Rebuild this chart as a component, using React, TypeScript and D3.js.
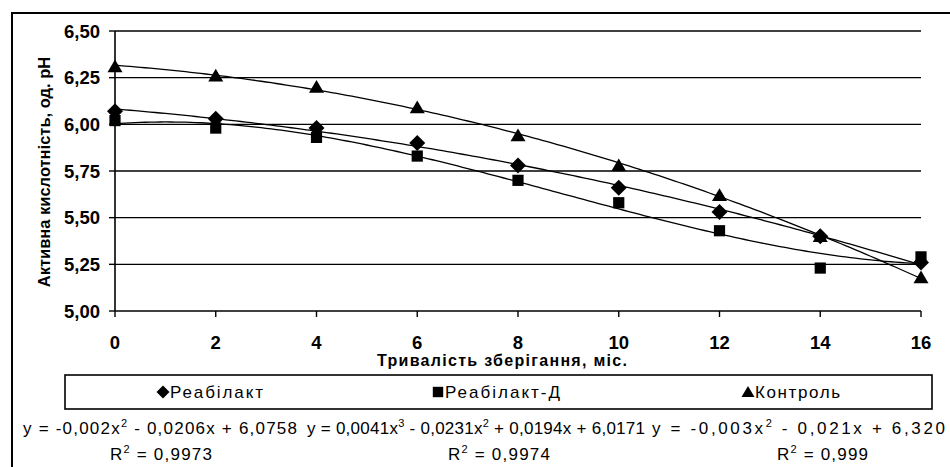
import React from "react";
import * as d3 from "d3";

const months = [0, 2, 4, 6, 8, 10, 12, 14, 16];
const reabilakt = [6.07, 6.03, 5.98, 5.9, 5.78, 5.66, 5.53, 5.4, 5.26];
const reabilaktD = [6.02, 5.98, 5.93, 5.83, 5.7, 5.58, 5.43, 5.23, 5.29];
const kontrol = [6.31, 6.26, 6.2, 6.09, 5.94, 5.78, 5.62, 5.4, 5.18];
const yTicks = [5.0, 5.25, 5.5, 5.75, 6.0, 6.25, 6.5];
const xTicks = [0, 2, 4, 6, 8, 10, 12, 14, 16];
const seriesNames = ["Реабілакт", "Реабілакт-Д", "Контроль"];
const trendDegrees = [2, 3, 2];
const equations = [
  [["y = -0,002x", ""], ["2", "sup"], [" - 0,0206x + 6,0758", ""]],
  [["y = 0,0041x", ""], ["3", "sup"], [" - 0,0231x", ""], ["2", "sup"], [" + 0,0194x + 6,0171", ""]],
  [["y = -0,003x", ""], ["2", "sup"], [" - 0,021x + 6,320", ""]],
];
const rSquared = ["0,9973", "0,9974", "0,999"];

function polyfit(xs: number[], ys: number[], deg: number): number[] {
  const n = deg + 1;
  const A: number[][] = Array.from({ length: n }, () => new Array(n + 1).fill(0));
  for (let r = 0; r < n; r++) {
    for (let c = 0; c < n; c++) {
      A[r][c] = d3.sum(xs, (x) => Math.pow(x, r + c));
    }
    A[r][n] = d3.sum(xs, (x, i) => ys[i] * Math.pow(x, r));
  }
  for (let i = 0; i < n; i++) {
    let p = i;
    for (let k = i + 1; k < n; k++) if (Math.abs(A[k][i]) > Math.abs(A[p][i])) p = k;
    [A[i], A[p]] = [A[p], A[i]];
    for (let k = i + 1; k < n; k++) {
      const f = A[k][i] / A[i][i];
      for (let j = i; j <= n; j++) A[k][j] -= f * A[i][j];
    }
  }
  const coef = new Array(n).fill(0);
  for (let i = n - 1; i >= 0; i--) {
    let s = A[i][n];
    for (let j = i + 1; j < n; j++) s -= A[i][j] * coef[j];
    coef[i] = s / A[i][i];
  }
  return coef;
}

const FONT = "'Liberation Sans', Arial, sans-serif";

export default function App() {
  const W = 950, H = 467;
  const x = d3.scaleLinear().domain([0, 16]).range([115, 921]);
  const y = d3.scaleLinear().domain([5, 6.5]).range([311, 31]);
  const data = [reabilakt, reabilaktD, kontrol];
  const line = d3.line<[number, number]>().x((d) => x(d[0])).y((d) => y(d[1]));
  const fine = d3.range(0, 16.0001, 0.1);

  const marker = (kind: number, cx: number, cy: number, s: number) => {
    if (kind === 0) {
      return <path d={d3.symbol().type(d3.symbolSquare).size(s * s * 0.5)() as string} transform={`translate(${cx},${cy}) rotate(45)`} fill="#000" />;
    }
    if (kind === 1) {
      return <rect x={cx - s * 0.4} y={cy - s * 0.4} width={s * 0.8} height={s * 0.8} fill="#000" />;
    }
    const h = s * 0.85;
    return <path d={`M${cx},${cy - h * 0.55}L${cx + s / 2},${cy + h * 0.45}L${cx - s / 2},${cy + h * 0.45}Z`} fill="#000" />;
  };

  const eqX = [23, 307, 652];
  const eqW = [274, 338, 293];
  const rX = [110, 448, 777];
  const rW = [102, 102, 91];
  const legX = [157, 432, 742];
  const legW = [93, 115, 85];

  return (
    <svg width={W} height={H} style={{ position: "absolute", left: 0, top: 0, background: "#fff" }}>
      <rect x={0} y={0} width={W} height={H} fill="#fff" />
      <path d={`M12,${H + 5}V13H${W + 5}`} fill="none" stroke="#000" strokeWidth={2} />
      {yTicks.map((t) => (
        <line key={t} x1={x(0)} x2={x(16)} y1={y(t)} y2={y(t)} stroke="#000" strokeWidth={t === 5 ? 1.6 : 1.4} />
      ))}
      <line x1={x(0)} x2={x(0)} y1={y(6.5)} y2={y(5)} stroke="#000" strokeWidth={1.6} />
      {yTicks.map((t) => (
        <g key={"yt" + t}>
          <line x1={x(0) - 6} x2={x(0)} y1={y(t)} y2={y(t)} stroke="#000" strokeWidth={1.4} />
          <text x={100} y={y(t)} dy="0.36em" textAnchor="end" fontFamily={FONT} fontWeight="bold" fontSize={18.5}>
            {d3.format(".2f")(t).replace(".", ",")}
          </text>
        </g>
      ))}
      {xTicks.map((t) => (
        <g key={"xt" + t}>
          <line x1={x(t)} x2={x(t)} y1={y(5)} y2={y(5) + 6} stroke="#000" strokeWidth={1.4} />
          <text x={x(t)} y={349} textAnchor="middle" fontFamily={FONT} fontWeight="bold" fontSize={18.5}>
            {t}
          </text>
        </g>
      ))}
      <text x={502} y={366} textAnchor="middle" fontFamily={FONT} fontWeight="bold" fontSize={16} textLength={250} lengthAdjust="spacing">
        Тривалість зберігання, міс.
      </text>
      <text transform={`translate(50,172) rotate(-90)`} textAnchor="middle" fontFamily={FONT} fontWeight="bold" fontSize={16.5}>
        Активна кислотність, од. рН
      </text>
      {data.map((vals, si) => {
        const c = polyfit(months, vals, trendDegrees[si]);
        const pts: [number, number][] = fine.map((xv) => [xv, c.reduce((s, ci, k) => s + ci * Math.pow(xv, k), 0)]);
        return <path key={"tr" + si} d={line(pts) as string} fill="none" stroke="#000" strokeWidth={1.3} />;
      })}
      {data.map((vals, si) => (
        <g key={"m" + si}>
          {vals.map((v, i) => (
            <g key={i}>{marker(si, x(months[i]), y(v), si === 0 ? 16 : si === 1 ? 14 : 15)}</g>
          ))}
        </g>
      ))}
      <rect x={65} y={375} width={867} height={34} fill="#fff" stroke="#000" strokeWidth={1.6} />
      {legX.map((lx, i) => (
        <g key={"lg" + i}>
          {marker(i, lx + 6, 392, 13)}
          <text x={lx + 13} y={398} fontFamily={FONT} fontSize={17} textLength={legW[i]} lengthAdjust="spacing">
            {seriesNames[i]}
          </text>
        </g>
      ))}
      {eqX.map((ex, i) => (
        <text key={"eq" + i} x={ex} y={434} fontFamily={FONT} fontSize={17} textLength={eqW[i]} lengthAdjust="spacing">
          {equations[i].map(([t, k], j) =>
            k === "sup" ? (
              <tspan key={j} fontSize={11} dy={-7}>{t}</tspan>
            ) : (
              <tspan key={j} dy={j > 0 && equations[i][j - 1][1] === "sup" ? 7 : 0}>{t}</tspan>
            )
          )}
        </text>
      ))}
      {rX.map((rx, i) => (
        <text key={"r" + i} x={rx} y={460} fontFamily={FONT} fontSize={17} textLength={rW[i]} lengthAdjust="spacing">
          <tspan>R</tspan>
          <tspan fontSize={11} dy={-7}>2</tspan>
          <tspan dy={7}>{" = " + rSquared[i]}</tspan>
        </text>
      ))}
    </svg>
  );
}
